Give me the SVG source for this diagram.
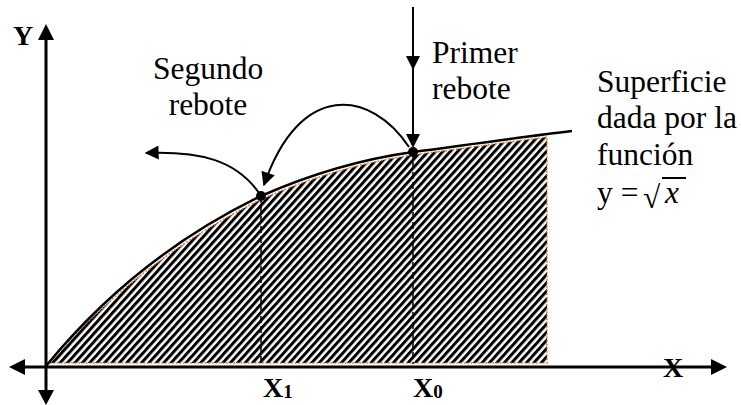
<svg xmlns="http://www.w3.org/2000/svg" width="741" height="405" viewBox="0 0 741 405">
<style>
  .t { font-family: "Liberation Serif", "Times New Roman", serif; font-size: 31.5px; fill: #000; }
  .b { font-family: "Liberation Serif", "Times New Roman", serif; font-size: 28px; font-weight: bold; fill: #000; }
  .sub { font-size: 19px; }
  .ax { stroke: #000; stroke-width: 3; fill: none; }
  .ln { stroke: #000; stroke-width: 2; fill: none; }
  .dash { stroke: #000; stroke-width: 1.5; stroke-dasharray: 7 3; fill: none; }
  .head { fill: #000; stroke: none; }
</style>
<defs>
  <pattern id="hatch" patternUnits="userSpaceOnUse" width="5.5" height="10" patternTransform="rotate(42)">
    <rect x="0" y="0" width="5.5" height="10" fill="#fff"/>
    <rect x="0" y="0" width="3" height="10" fill="#000"/>
  </pattern>
  <marker id="arr" viewBox="0 0 10 10" refX="9" refY="5" markerUnits="userSpaceOnUse" markerWidth="15" markerHeight="14" orient="auto">
    <path d="M0,0 L10,5 L0,10 Z" fill="#000"/>
  </marker>
</defs>

<g id="area">
  <path d="M49,363 C 102,302 172,243 262,199 C 321,173 371,161 413,155 C 467.3,147.7 510.4,141.7 547,137 L547,363 Z" fill="url(#hatch)" stroke="#E07828" stroke-width="1.6" stroke-dasharray="1.6 2"/>
</g>

<g id="axes">
  <line class="ax" x1="46" y1="38" x2="46" y2="392"/>
  <polygon class="head" points="46,24 38,40 54,40"/>
  <polygon class="head" points="46,405 38,390 54,390"/>
  <line class="ax" x1="24" y1="367" x2="713" y2="367"/>
  <polygon class="head" points="9,367 25,359 25,375"/>
  <polygon class="head" points="727,367 711,359 711,375"/>
</g>

<g id="curve">
  <path d="M46,366 C 100,300 170,240 261,196 C 320,170 370,158 413,152 C 480,143 530,136 572,131" stroke="#000" stroke-width="2.5" fill="none"/>
</g>

<g id="connectors">
  <line class="dash" x1="261" y1="196" x2="261" y2="364"/>
  <line class="dash" x1="413" y1="152" x2="413" y2="364"/>
  <line class="ln" x1="413" y1="7" x2="413" y2="140"/>
  <polygon class="head" points="413,70 406,56 420,56"/>
  <polygon class="head" points="413,148 406,134 420,134"/>
  <path class="ln" d="M409,147 C 371,90 300,80 264,185" marker-end="url(#arr)"/>
  <path class="ln" d="M259,193 C 236,160 200,151 146,153" marker-end="url(#arr)"/>
</g>

<g id="points">
  <circle cx="413" cy="152" r="5" fill="#000"/>
  <circle cx="261" cy="196" r="5" fill="#000"/>
</g>

<g id="labels">
  <text class="b" x="13" y="45">Y</text>
  <text class="t" x="208" y="79" text-anchor="middle">Segundo</text>
  <text class="t" x="208" y="115" text-anchor="middle">rebote</text>
  <text class="t" x="432" y="63">Primer</text>
  <text class="t" x="432" y="99">rebote</text>
  <text class="t" x="597" y="92">Superficie</text>
  <text class="t" x="597" y="128">dada por la</text>
  <text class="t" x="597" y="165">función</text>
  <text class="t" x="597" y="203">y =</text>
  <text class="t" x="643" y="208" font-size="40">√</text>
  <text class="t" x="665" y="203" font-style="italic" font-size="34">x</text>
  <line x1="662" y1="178" x2="686" y2="178" stroke="#000" stroke-width="2"/>
  <text class="b" x="263" y="397">X<tspan class="sub" dy="1">1</tspan></text>
  <text class="b" x="413" y="397">X<tspan class="sub" dy="1">0</tspan></text>
  <text class="b" x="663" y="377">X</text>
</g>
</svg>
